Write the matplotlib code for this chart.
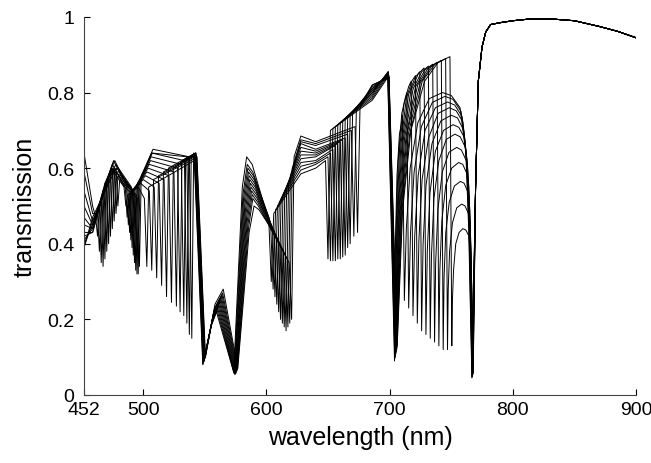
import matplotlib
matplotlib.use('Agg')
import matplotlib.pyplot as plt

plt.rcParams['font.family'] = ['Liberation Sans', 'DejaVu Sans']

# transmission spectra, one entry per curve (12 curves), features
start_t = [0.64, 0.59, 0.54, 0.50, 0.47, 0.45, 0.43, 0.42, 0.41, 0.40, 0.39, 0.39]
conv_t = [0.50, 0.48, 0.46, 0.45, 0.44, 0.44, 0.43, 0.43, 0.44, 0.45, 0.46, 0.47]

# short-wavelength dips (452-545 nm)
e_wl = [463, 464.5, 466, 467.5, 469, 470.5, 472, 473.5, 475, 476.5, 478, 479.5]
e_t = [0.42, 0.38, 0.35, 0.34, 0.36, 0.38, 0.40, 0.42, 0.44, 0.46, 0.48, 0.50]
e_sh = [0.47, 0.48, 0.50, 0.52, 0.54, 0.56, 0.57, 0.58, 0.59, 0.60, 0.60, 0.60]
e_rt = [0.50, 0.52, 0.54, 0.56, 0.57, 0.58, 0.59, 0.59, 0.59, 0.59, 0.58, 0.57]

p1_wl = [474, 475, 476, 477, 478, 479, 480, 481, 482, 483, 484, 485]
p1_t = [0.60, 0.61, 0.62, 0.62, 0.61, 0.60, 0.60, 0.59, 0.58, 0.57, 0.56, 0.55]

f_wl = [486, 487, 488, 489, 490, 491, 492, 493, 494, 495, 496, 497]
f_t = [0.50, 0.47, 0.45, 0.43, 0.41, 0.39, 0.37, 0.35, 0.33, 0.32, 0.32, 0.34]
f_sh = [0.55, 0.55, 0.55, 0.55, 0.55, 0.55, 0.55, 0.54, 0.54, 0.53, 0.53, 0.52]
f_rt = [0.53, 0.53, 0.53, 0.54, 0.54, 0.54, 0.55, 0.55, 0.56, 0.56, 0.57, 0.58]

p2_wl = [496, 498, 500, 502, 503, 504, 505, 506, 506.5, 507, 507.5, 508]
p2_t = [0.55, 0.56, 0.57, 0.58, 0.59, 0.60, 0.61, 0.62, 0.63, 0.64, 0.64, 0.65]

a_wl = [503, 507, 511, 515, 519, 523, 527, 530, 533, 535.5, 537.5, 539.5]
a_t = [0.34, 0.33, 0.31, 0.29, 0.26, 0.245, 0.235, 0.22, 0.21, 0.19, 0.16, 0.15]
a_sh = [0.52, 0.54, 0.55, 0.56, 0.57, 0.58, 0.59, 0.60, 0.61, 0.62, 0.63, 0.63]
a_rt = [0.55, 0.57, 0.58, 0.59, 0.60, 0.60, 0.61, 0.62, 0.62, 0.63, 0.63, 0.64]

g_wl = [541.5, 541.7, 541.9, 542.1, 542.3, 542.5, 542.7, 542.9, 543.1, 543.3, 543.5, 543.7]
g_t = [0.62, 0.625, 0.63, 0.635, 0.64, 0.64, 0.64, 0.64, 0.635, 0.63, 0.63, 0.63]

d549_wl = [548.4, 548.6, 548.8, 549.0, 549.2, 549.4, 549.6, 549.8, 550.0, 550.2, 550.4, 550.6]
d549_t = [0.08, 0.082, 0.084, 0.086, 0.088, 0.09, 0.092, 0.094, 0.096, 0.098, 0.10, 0.10]

bl_wl = [555, 555.3, 555.6, 555.9, 556.2, 556.5, 556.8, 557.1, 557.4, 557.7, 558, 558.3]
bl_t = [0.18, 0.185, 0.19, 0.195, 0.2, 0.205, 0.21, 0.215, 0.22, 0.225, 0.23, 0.24]
bump_wl = [559.5, 560, 560.5, 561, 561.5, 562, 562.5, 563, 563.5, 564, 564.5, 565]
bump_t = [0.22, 0.225, 0.23, 0.235, 0.24, 0.245, 0.25, 0.255, 0.26, 0.265, 0.27, 0.28]

d575_wl = [573.5, 573.8, 574.1, 574.4, 574.7, 575.0, 575.3, 575.6, 575.9, 576.2, 576.5, 576.8]
d575_t = [0.06, 0.058, 0.056, 0.055, 0.055, 0.056, 0.058, 0.06, 0.062, 0.065, 0.068, 0.07]

# 580-700 nm
rl_wl = [580.5, 581, 581.5, 582, 582.5, 583, 583.5, 584, 584.5, 585, 585.5, 586]
rl_t = [0.55, 0.53, 0.52, 0.51, 0.50, 0.49, 0.48, 0.47, 0.46, 0.45, 0.44, 0.43]
r_wl = [584, 584.5, 585, 585.5, 586, 586.5, 587, 587.5, 588, 588.5, 589, 590]
r_t = [0.63, 0.61, 0.60, 0.59, 0.58, 0.57, 0.56, 0.55, 0.54, 0.53, 0.52, 0.50]
rr_wl = [588.5, 589, 589.5, 590, 590.5, 591, 591.5, 592, 592.5, 593, 593.5, 594]
rr_t = [0.61, 0.59, 0.58, 0.57, 0.56, 0.55, 0.54, 0.53, 0.52, 0.51, 0.50, 0.49]
fan_t = [None, 0.47, 0.47, 0.465, 0.465, 0.46, 0.46, 0.455, 0.455, 0.45, 0.45, 0.45]

b_wl = [604, 605.5, 607, 608.5, 610, 611.5, 613, 614.5, 616, 617.5, 619, 620.5]
b_t = [0.30, 0.28, 0.26, 0.24, 0.22, 0.20, 0.19, 0.18, 0.17, 0.18, 0.19, 0.20]
b_sh = [0.46, 0.45, 0.44, 0.43, 0.42, 0.41, 0.40, 0.39, 0.38, 0.37, 0.36, 0.35]
u_t = [0.48, 0.49, 0.50, 0.51, 0.52, 0.53, 0.54, 0.55, 0.56, 0.58, 0.60, 0.63]

band628_t = [0.585, 0.595, 0.605, 0.615, 0.625, 0.635, 0.645, 0.655, 0.665, 0.67, 0.675, 0.685]
band640_t = [0.60, 0.61, 0.615, 0.62, 0.63, 0.635, 0.64, 0.645, 0.65, 0.66, 0.665, 0.67]

c_wl = [650, 652, 654, 656, 658, 660, 662, 664, 666, 668, 671, 674]
c_t = [0.36, 0.355, 0.355, 0.355, 0.36, 0.36, 0.365, 0.37, 0.39, 0.40, 0.42, 0.43]
c_sh = [0.62, 0.63, 0.64, 0.65, 0.66, 0.665, 0.67, 0.675, 0.68, 0.69, 0.70, 0.71]
c_rt = [0.70, 0.705, 0.71, 0.715, 0.72, 0.725, 0.73, 0.735, 0.74, 0.745, 0.75, 0.76]

band686_t = [0.78, 0.785, 0.79, 0.795, 0.80, 0.80, 0.805, 0.81, 0.81, 0.815, 0.82, 0.82]

t7_wl = [698.5, 698.6, 698.7, 698.8, 698.9, 699.0, 699.1, 699.2, 699.3, 699.4, 699.5, 699.6]
t7_t = [0.84, 0.845, 0.85, 0.855, 0.855, 0.855, 0.85, 0.85, 0.845, 0.845, 0.84, 0.84]

# 700-770 nm: fixed dip, first arch, moving dip, second arch, fixed dip
d705_wl = [704.0, 704.2, 704.4, 704.6, 704.8, 705.0, 705.2, 705.4, 705.6, 705.8, 706.0, 706.2]
d705_t = [0.09, 0.095, 0.10, 0.10, 0.105, 0.11, 0.11, 0.115, 0.12, 0.12, 0.125, 0.13]

fa1_wl = [704.8, 705.3, 705.9, 706.4, 706.9, 707.5, 708.0, 708.5, 709.0, 709.6, 710.1, 710.6]
fa1_t = [0.41, 0.44, 0.46, 0.46, 0.47, 0.48, 0.48, 0.48, 0.48, 0.49, 0.49, 0.49]
fa2_wl = [706.0, 707.0, 708.1, 709.1, 710.1, 711.1, 712.2, 713.2, 714.2, 715.2, 716.3, 717.3]
fa2_t = [0.58, 0.62, 0.65, 0.66, 0.67, 0.675, 0.68, 0.68, 0.69, 0.69, 0.69, 0.70]
fa3_wl = [708.0, 709.9, 711.7, 713.6, 715.4, 717.3, 719.1, 721.0, 722.8, 724.7, 726.5, 728.4]
fa3_t = [0.69, 0.745, 0.77, 0.785, 0.795, 0.805, 0.81, 0.815, 0.82, 0.825, 0.83, 0.83]
fa4_wl = [710.0, 712.7, 715.4, 718.0, 720.7, 723.4, 726.1, 728.7, 731.4, 734.1, 736.8, 739.4]
fa4_t = [0.725, 0.785, 0.815, 0.83, 0.84, 0.85, 0.855, 0.86, 0.865, 0.87, 0.875, 0.88]
a1_t = [0.74, 0.80, 0.83, 0.845, 0.855, 0.865, 0.87, 0.875, 0.88, 0.885, 0.89, 0.895]

d_wl = [712, 715.5, 719, 722.5, 726, 729.5, 733, 736.5, 740, 743.5, 747, 750.5]
d_t = [0.25, 0.23, 0.21, 0.19, 0.17, 0.16, 0.15, 0.14, 0.13, 0.12, 0.12, 0.13]

sl1_wl = [713.6, 717.0, 720.4, 723.8, 727.2, 730.6, 734.0, 737.4, 740.8, 744.2, 747.6, 751.0]
sl1_t = [0.44, 0.43, 0.42, 0.41, 0.40, 0.38, 0.37, 0.35, 0.33, 0.31, 0.28, 0.25]
sl2_wl = [716.7, 719.9, 723.2, 726.4, 729.6, 732.8, 736.0, 739.2, 742.4, 745.6, 748.7, 751.9]
sl2_t = [0.60, 0.59, 0.58, 0.57, 0.555, 0.535, 0.52, 0.49, 0.46, 0.43, 0.38, 0.33]
sl3_wl = [722.9, 725.8, 728.8, 731.6, 734.4, 737.2, 740.0, 742.8, 745.6, 748.4, 751.0, 753.7]
sl3_t = [0.72, 0.71, 0.70, 0.68, 0.665, 0.645, 0.62, 0.59, 0.555, 0.51, 0.455, 0.40]
sl4_wl = [732.2, 734.7, 737.2, 739.4, 741.6, 743.8, 746.0, 748.2, 750.4, 752.6, 754.5, 756.4]
sl4_t = [0.784, 0.774, 0.76, 0.745, 0.725, 0.70, 0.676, 0.642, 0.60, 0.553, 0.495, 0.43]
a2_wl = [743, 745, 747, 748.5, 750, 751.5, 753, 754.5, 756, 757.5, 758.5, 759.5]
a2_t = [0.80, 0.79, 0.775, 0.76, 0.74, 0.715, 0.69, 0.655, 0.615, 0.565, 0.505, 0.44]
sr1_wl = [750.1, 751.5, 752.9, 754.0, 755.1, 756.2, 757.3, 758.3, 759.4, 760.5, 761.2, 762.0]
sr1_t = [0.792, 0.782, 0.767, 0.752, 0.733, 0.708, 0.683, 0.648, 0.61, 0.56, 0.50, 0.436]
sr2_wl = [757.2, 758.0, 758.9, 759.5, 760.2, 760.9, 761.5, 762.2, 762.8, 763.5, 764.0, 764.4]
sr2_t = [0.76, 0.75, 0.736, 0.722, 0.70, 0.68, 0.655, 0.62, 0.585, 0.537, 0.48, 0.42]
sr3_wl = [761.9, 762.4, 762.8, 763.2, 763.6, 763.6, 764.4, 764.7, 765.1, 765.5, 765.8, 766.0]
sr3_t = [0.64, 0.63, 0.62, 0.61, 0.59, 0.57, 0.55, 0.52, 0.49, 0.45, 0.40, 0.35]
sr4_wl = [764.2, 764.5, 764.8, 765.1, 765.3, 765.5, 765.8, 766.0, 766.3, 766.5, 766.7, 766.9]
sr4_t = [0.44, 0.43, 0.43, 0.42, 0.41, 0.39, 0.38, 0.36, 0.34, 0.31, 0.28, 0.25]

d767_wl = [766.8, 766.9, 767.0, 767.1, 767.2, 767.3, 767.4, 767.5, 767.6, 767.7, 767.8, 767.9]
d767_t = [0.045, 0.047, 0.049, 0.05, 0.05, 0.05, 0.052, 0.054, 0.056, 0.058, 0.06, 0.06]

# shared long-wavelength tail
tail_wl = [769.8, 772, 775, 778, 782, 790, 800, 815, 830, 850, 870, 885, 900]
tail_t = [0.55, 0.83, 0.92, 0.96, 0.98, 0.985, 0.99, 0.995, 0.995, 0.99, 0.975, 0.962, 0.945]


def curve(k):
    pts = [(452, start_t[k]), (459, conv_t[k]),
           (e_wl[k] - 1.5, e_sh[k]), (e_wl[k], e_t[k]), (e_wl[k] + 1.5, e_rt[k]),
           (p1_wl[k], p1_t[k]),
           (f_wl[k] - 1.5, f_sh[k]), (f_wl[k], f_t[k]), (f_wl[k] + 1.5, f_rt[k]),
           (p2_wl[k], p2_t[k]),
           (a_wl[k] - 2, a_sh[k]), (a_wl[k], a_t[k]), (a_wl[k] + 1.5, a_rt[k]),
           (g_wl[k], g_t[k]), (d549_wl[k], d549_t[k]),
           (bl_wl[k], bl_t[k]), (bump_wl[k], bump_t[k]),
           (d575_wl[k], d575_t[k]),
           (rl_wl[k], rl_t[k]), (r_wl[k], r_t[k]), (rr_wl[k], rr_t[k]),
           (b_wl[k] - 2, b_sh[k]), (b_wl[k], b_t[k]), (b_wl[k] + 2, u_t[k]),
           (628, band628_t[k]), (640, band640_t[k]),
           (c_wl[k] - 2, c_sh[k]), (c_wl[k], c_t[k]), (c_wl[k] + 2, c_rt[k]),
           (686, band686_t[k]),
           (t7_wl[k], t7_t[k]), (d705_wl[k], d705_t[k]),
           (fa1_wl[k], fa1_t[k]), (fa2_wl[k], fa2_t[k]),
           (fa3_wl[k], fa3_t[k]), (fa4_wl[k], fa4_t[k]),
           (d_wl[k] - 1.5, a1_t[k]), (d_wl[k], d_t[k]),
           (sl1_wl[k], sl1_t[k]), (sl2_wl[k], sl2_t[k]),
           (sl3_wl[k], sl3_t[k]), (sl4_wl[k], sl4_t[k]),
           (a2_wl[k], a2_t[k]),
           (sr1_wl[k], sr1_t[k]), (sr2_wl[k], sr2_t[k]),
           (sr3_wl[k], sr3_t[k]), (sr4_wl[k], sr4_t[k]),
           (d767_wl[k], d767_t[k])]
    if fan_t[k] is not None:
        pts.append((602, fan_t[k]))
    pts += list(zip(tail_wl, tail_t))
    pts.sort()
    return [p[0] for p in pts], [p[1] for p in pts]


fig = plt.figure(figsize=(6.51, 4.64), dpi=100)
ax = fig.add_axes([0.129, 0.1466, 0.848, 0.8147])

for k in range(len(start_t)):
    x, y = curve(k)
    ax.plot(x, y, color='k', lw=0.7)

ax.set_xlim(452, 900)
ax.set_ylim(0, 1)
ax.set_xticks([452, 500, 600, 700, 800, 900])
ax.set_xticklabels(['452', '500', '600', '700', '800', '900'])
ax.set_yticks([0, 0.2, 0.4, 0.6, 0.8, 1])
ax.set_yticklabels(['0', '0.2', '0.4', '0.6', '0.8', '1'])
ax.tick_params(direction='in', length=4, width=0.8, labelsize=14)
ax.tick_params(axis='y', pad=7)
ax.tick_params(axis='x', pad=4)
for s in ['top', 'right']:
    ax.spines[s].set_visible(False)
for s in ['left', 'bottom']:
    ax.spines[s].set_color('#444444')
ax.set_xlabel('wavelength (nm)', fontsize=18)
ax.set_ylabel('transmission', fontsize=18)
ax.yaxis.set_label_coords(-0.085, 0.5)
ax.xaxis.set_label_coords(0.5, -0.08)

fig.savefig('out.png', dpi=100)
